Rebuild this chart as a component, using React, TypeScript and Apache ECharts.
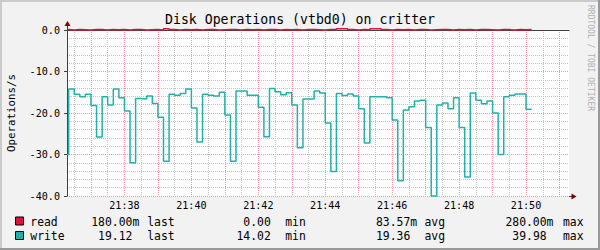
import React, { useEffect, useRef } from 'react';
import * as echarts from 'echarts';

// ---------- data ----------
const TITLE = 'Disk Operations (vtbd0) on critter';
const Y_TITLE = 'Operations/s';
const WATERMARK = 'RRDTOOL / TOBI OETIKER';

// times are seconds of the day
const FIRST_SAMPLE = 21 * 3600 + 36 * 60 + 10; // start of the first 10 s interval
const STEP = 10;
const VIEW_START = 21 * 3600 + 36 * 60 + 17;
const VIEW_END = VIEW_START + 900;

// write operations per second (drawn mirrored below zero)
const writeOps = [
  30.0, 14.2, 15.5, 16.1, 15.5, 18.2, 25.8, 16.1, 18.1, 14.2, 16.3, 19.5, 32.0, 16.5, 16.6, 15.9, 17.7, 21.0, 31.6, 15.5, 15.7, 15.3,
  14.2, 18.8, 27.0, 15.5, 15.7, 15.9, 15.0, 20.5, 31.6, 14.7, 14.7, 15.7, 15.7, 18.6, 25.7, 14.1, 14.9, 15.6, 15.1, 18.1, 28.4,
  16.6, 16.6, 14.7, 15.2, 22.4, 34.1, 15.3, 15.8, 15.4, 15.9, 19.0, 27.2, 16.1, 16.1, 16.1, 16.3, 21.7, 36.3, 19.3, 18.5, 17.1,
  16.9, 23.5, 39.98, 18.1, 17.6, 19.0, 16.3, 23.5, 35.4, 15.2, 16.9, 17.8, 17.1, 20.0, 30.0, 16.1, 15.7, 15.4, 15.4, 19.12,
];

// read operations per second
const readOps = [
  0.1, 0.0, 0.1, 0.05, 0.0, 0.1, 0.1, 0.0, 0.1, 0.05, 0.1, 0.0, 0.1, 0.1, 0.0, 0.05, 0.1, 0.0, 0.28, 0.1, 0.0,
  0.1, 0.05, 0.1, 0.0, 0.1, 0.1, 0.0, 0.05, 0.1, 0.1, 0.0, 0.1, 0.05, 0.1, 0.0, 0.1, 0.1, 0.0, 0.1, 0.05, 0.1,
  0.0, 0.1, 0.1, 0.05, 0.0, 0.1, 0.1, 0.28, 0.28, 0.1, 0.0, 0.1, 0.05, 0.28, 0.28, 0.1, 0.0, 0.1, 0.05, 0.1, 0.0,
  0.1, 0.1, 0.0, 0.05, 0.1, 0.1, 0.0, 0.1, 0.05, 0.1, 0.0, 0.1, 0.1, 0.05, 0.0, 0.1, 0.1, 0.0, 0.1, 0.05, 0.1,
];

const Y_MIN = -40;
const Y_MAX = 0;
const Y_INTERVAL = 10;

const legendNames = ['read', 'write'];
const legendColors = ['#DC143C', '#20B2AA'];
const lastNum = ['180.00', '19.12'];
const lastSfx = ['m', ''];
const minNum = ['0.00', '14.02'];
const minSfx = ['', ''];
const avgNum = ['83.57', '19.36'];
const avgSfx = ['m', ''];
const maxNum = ['280.00', '39.98'];
const maxSfx = ['m', ''];

// ---------- layout / style ----------
const MONO = '"DejaVu Sans Mono", monospace';
const AXIS_COLOR = '#404040';
const ARROW_COLOR = '#800000';
const GRID_MINOR = '#c4c4c4';
const GRID_MAJOR = '#f09a9a';
const L = 67, W = 502, T = 30, H = 166;
const PXS = W / (VIEW_END - VIEW_START);

const MINOR_START = 21 * 3600 + 36 * 60 + 30;
const MINOR_END = 21 * 3600 + 50 * 60 + 30;
const MAJOR_START = 21 * 3600 + 37 * 60;
const MAJOR_END = 21 * 3600 + 51 * 60;
const LABEL_START = 21 * 3600 + 38 * 60;
const LABEL_END = 21 * 3600 + 50 * 60;

function gridFor(min: number, max: number, extra: any = {}) {
  return { left: L + (min - VIEW_START) * PXS, top: T, width: (max - min) * PXS, height: H, ...extra };
}

function hhmm(v: number) {
  const h = Math.floor(v / 3600);
  const m = Math.floor((v % 3600) / 60);
  return `${h}:${m < 10 ? '0' : ''}${m}`;
}

function stepData(values: number[], sign: number) {
  const pts: number[][] = values.map((v, i) => [Math.max(FIRST_SAMPLE + i * STEP, VIEW_START), sign * v]);
  pts.push([FIRST_SAMPLE + values.length * STEP, sign * values[values.length - 1]]);
  return pts;
}

function txt(text: string, x: number, y: number, size: number, align: string, extra: any = {}) {
  return {
    type: 'text',
    x,
    y,
    z: 100,
    silent: true,
    ...extra,
    style: {
      text,
      fill: extra.fill || '#000',
      font: `${size}px ${MONO}`,
      textAlign: align,
      align,
      textVerticalAlign: 'middle',
      verticalAlign: 'middle',
    },
  };
}

export default function App() {
  const ref = useRef<HTMLDivElement>(null);

  useEffect(() => {
    if (!ref.current) return;
    const chart = echarts.init(ref.current, undefined, { renderer: 'svg' });

    const hiddenY = (gi: number) => ({ gridIndex: gi, type: 'value', min: Y_MIN, max: Y_MAX, show: false });
    const gridX = (gi: number, min: number, max: number, interval: number, color: string) => ({
      gridIndex: gi,
      type: 'value',
      min,
      max,
      interval,
      axisLine: { show: false },
      axisTick: { show: false },
      axisLabel: { show: false },
      splitLine: { show: true, lineStyle: { color, width: 1, type: [1, 1] } },
    });

    const graphic: any[] = [];
    // border shading
    graphic.push({ type: 'line', shape: { x1: 0, y1: 1, x2: 600, y2: 1 }, style: { stroke: '#cbcbcb', lineWidth: 2 }, z: 100 });
    graphic.push({ type: 'line', shape: { x1: 1, y1: 0, x2: 1, y2: 250 }, style: { stroke: '#cbcbcb', lineWidth: 2 }, z: 100 });
    graphic.push({ type: 'line', shape: { x1: 0, y1: 249, x2: 600, y2: 249 }, style: { stroke: '#999999', lineWidth: 2 }, z: 100 });
    graphic.push({ type: 'line', shape: { x1: 599, y1: 0, x2: 599, y2: 250 }, style: { stroke: '#999999', lineWidth: 2 }, z: 100 });
    // axis extensions and arrows
    graphic.push({ type: 'line', shape: { x1: 67.5, y1: 25, x2: 67.5, y2: 30 }, style: { stroke: AXIS_COLOR, lineWidth: 1 }, z: 100 });
    graphic.push({ type: 'line', shape: { x1: 569, y1: 196.5, x2: 572, y2: 196.5 }, style: { stroke: AXIS_COLOR, lineWidth: 1 }, z: 100 });
    graphic.push({ type: 'polygon', shape: { points: [[64.5, 26], [70.5, 26], [67.5, 21]] }, style: { fill: ARROW_COLOR }, z: 101 });
    graphic.push({ type: 'polygon', shape: { points: [[571.5, 193.5], [571.5, 199.5], [576.5, 196.5]] }, style: { fill: ARROW_COLOR }, z: 101 });
    // titles
    graphic.push(txt(TITLE, 300, 19, 13.2, 'center'));
    graphic.push(txt(Y_TITLE, 11, 113, 10.8, 'center', { rotation: Math.PI / 2 }));
    graphic.push(txt(WATERMARK, 590, 5, 8, 'left', { rotation: -Math.PI / 2, fill: '#b0b0b0' }));
    // legend
    const rowsY = [221.5, 236];
    legendNames.forEach((name, i) => {
      const y = rowsY[i];
      graphic.push({
        type: 'rect',
        shape: { x: 15.5, y: y - 4.5, width: 8, height: 8 },
        style: { fill: legendColors[i], stroke: '#000', lineWidth: 1 },
        z: 100,
      });
      graphic.push(txt(name, 30.3, y, 11.4, 'left'));
      graphic.push(txt(lastNum[i], 132.4, y, 11.4, 'right'));
      graphic.push(txt(lastSfx[i], 132.4, y, 11.4, 'left'));
      graphic.push(txt('last', 147.2, y, 11.4, 'left'));
      graphic.push(txt(minNum[i], 270.8, y, 11.4, 'right'));
      graphic.push(txt(minSfx[i], 270.8, y, 11.4, 'left'));
      graphic.push(txt('min', 285.2, y, 11.4, 'left'));
      graphic.push(txt(avgNum[i], 410.3, y, 11.4, 'right'));
      graphic.push(txt(avgSfx[i], 410.3, y, 11.4, 'left'));
      graphic.push(txt('avg', 424.5, y, 11.4, 'left'));
      graphic.push(txt(maxNum[i], 546.6, y, 11.4, 'right'));
      graphic.push(txt(maxSfx[i], 546.6, y, 11.4, 'left'));
      graphic.push(txt('max', 563, y, 11.4, 'left'));
    });

    chart.setOption({
      animation: false,
      backgroundColor: '#f2f2f2',
      grid: [
        gridFor(VIEW_START, VIEW_END, { show: true, backgroundColor: '#ffffff', borderWidth: 0 }),
        gridFor(MINOR_START, MINOR_END),
        gridFor(MAJOR_START, MAJOR_END),
        gridFor(LABEL_START, LABEL_END),
      ],
      xAxis: [
        {
          gridIndex: 0,
          type: 'value',
          min: VIEW_START,
          max: VIEW_END,
          axisLine: { show: true, lineStyle: { color: AXIS_COLOR, width: 1 } },
          axisTick: { show: false },
          axisLabel: { show: false },
          splitLine: { show: false },
        },
        gridX(1, MINOR_START, MINOR_END, 60, GRID_MINOR),
        gridX(2, MAJOR_START, MAJOR_END, 60, GRID_MAJOR),
        {
          gridIndex: 3,
          type: 'value',
          min: LABEL_START,
          max: LABEL_END,
          interval: 120,
          axisLine: { show: false },
          axisTick: { show: false },
          splitLine: { show: false },
          axisLabel: {
            show: true,
            margin: 4,
            showMinLabel: true,
            showMaxLabel: true,
            color: '#000',
            fontFamily: MONO,
            fontSize: 10.1,
            formatter: (v: number) => hhmm(v),
          },
        },
      ],
      yAxis: [
        {
          gridIndex: 0,
          type: 'value',
          min: Y_MIN,
          max: Y_MAX,
          interval: Y_INTERVAL,
          axisLine: { show: true, lineStyle: { color: AXIS_COLOR, width: 1 } },
          axisTick: { show: true, length: 3, lineStyle: { color: AXIS_COLOR } },
          axisLabel: {
            color: '#000',
            fontFamily: MONO,
            fontSize: 10.1,
            margin: 7,
            formatter: (v: number) => v.toFixed(1),
          },
          splitLine: { show: true, lineStyle: { color: GRID_MAJOR, width: 1, type: [1, 1] } },
          minorTick: { show: false, splitNumber: 5 },
          minorSplitLine: { show: true, lineStyle: { color: GRID_MINOR, width: 1, type: [1, 1] } },
        },
        hiddenY(1),
        hiddenY(2),
        hiddenY(3),
      ],
      series: [
        {
          name: 'write',
          type: 'line',
          xAxisIndex: 0,
          yAxisIndex: 0,
          step: 'end',
          symbol: 'none',
          showSymbol: false,
          clip: false,
          lineStyle: { color: legendColors[1], width: 1.5 },
          data: stepData(writeOps, -1),
          z: 3,
        },
        {
          name: 'read',
          type: 'line',
          xAxisIndex: 0,
          yAxisIndex: 0,
          step: 'end',
          symbol: 'none',
          showSymbol: false,
          clip: false,
          lineStyle: { color: legendColors[0], width: 1.5 },
          data: stepData(readOps, 1),
          z: 4,
        },
      ],
      graphic,
    });

    return () => chart.dispose();
  }, []);

  return <div ref={ref} style={{ position: 'fixed', left: 0, top: 0, width: 600, height: 250 }} />;
}
